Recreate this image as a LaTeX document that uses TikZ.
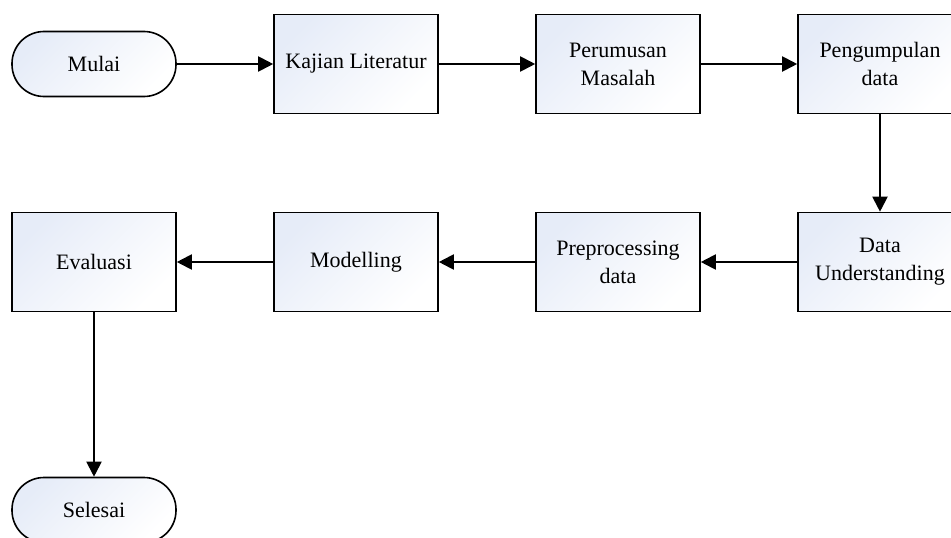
\documentclass[tikz,border=0pt]{standalone}
\usepackage{fontspec}
\setmainfont{Liberation Serif}
\usetikzlibrary{arrows.meta,shapes,positioning}
\definecolor{boxblue}{RGB}{230,236,248}

\begin{document}
\begin{tikzpicture}[x=1pt,y=-1pt,
  procbox/.style={draw, line width=1.6pt, minimum width=164pt, minimum height=99pt,
    inner sep=0pt, top color=boxblue, bottom color=white, shading angle=45,
    align=center, font=\fontsize{22}{28}\selectfont},
  termbox/.style={procbox, minimum height=65pt, rounded corners=32pt},
  flow/.style={line width=2pt, -{Triangle[length=15pt,width=15pt]}}]
	\path[use as bounding box, clip] (0,0) rectangle (951,538);
	% baris atas
	\node[termbox] (mulai) at (94,64) {Mulai};
	\node[procbox] (kajian) at (356,64) {Kajian Literatur};
	\node[procbox] (rumusan) at (618,64) {Perumusan\\Masalah};
	\node[procbox] (kumpul) at (880,64) {Pengumpulan\\data};
	% baris bawah
	\node[procbox] (paham) at (880,262) {Data\\Understanding};
	\node[procbox] (prepro) at (618,262) {Preprocessing\\data};
	\node[procbox] (model) at (356,262) {Modelling};
	\node[procbox] (eval) at (94,262) {Evaluasi};
	\node[termbox] (selesai) at (94,510) {Selesai};
	% alur
	\draw[flow] (mulai) -- (kajian);
	\draw[flow] (kajian) -- (rumusan);
	\draw[flow] (rumusan) -- (kumpul);
	\draw[flow] (kumpul) -- (paham);
	\draw[flow] (paham) -- (prepro);
	\draw[flow] (prepro) -- (model);
	\draw[flow] (model) -- (eval);
	\draw[flow] (eval) -- (selesai);
\end{tikzpicture}
\end{document}
